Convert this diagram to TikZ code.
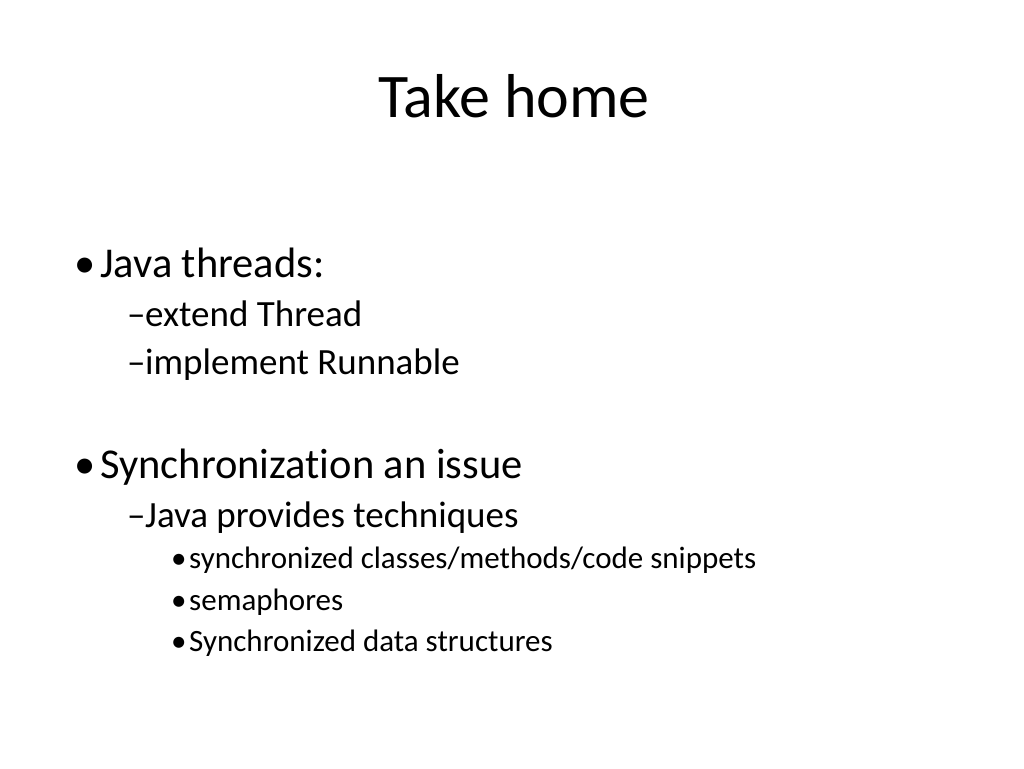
\documentclass[tikz,border=0pt]{standalone}
\usepackage{fontspec}
\setmainfont[RawFeature=-liga]{Carlito}
\usetikzlibrary{positioning}
\tikzset{
  lvlone/.style={anchor=base west,inner sep=0pt,font=\fontsize{42.5}{46}\selectfont},
  lvltwo/.style={anchor=base west,inner sep=0pt,font=\fontsize{37}{40}\selectfont},
  lvlthree/.style={anchor=base west,inner sep=0pt,font=\fontsize{31}{34}\selectfont}
}
\begin{document}
\begin{tikzpicture}[x=1pt,y=-1pt]
\useasboundingbox[fill=white] (0,0) rectangle (1024,768);
\node[anchor=base,inner sep=0pt,font=\fontsize{62}{68}\selectfont] (title) at (514,117) {Take home};
% first point
\node[lvlone] (b1) at (74,277) {\textbullet};
\node[lvlone] (java) at (100,277) {Java threads:};
\node[lvltwo] (d1) at (127,326) {--};
\node[lvltwo] (ext) at (145,326) {extend Thread};
\node[lvltwo] (d2) at (127,374) {--};
\node[lvltwo] (impl) at (145,374) {implement Runnable};
% second point
\node[lvlone] (b2) at (74,478) {\textbullet};
\node[lvlone] (sync) at (100,478) {Synchronization an issue};
\node[lvltwo] (d3) at (127,527) {--};
\node[lvltwo] (tech) at (145,527) {Java provides techniques};
\node[lvlthree] (b3) at (171,568) {\textbullet};
\node[lvlthree] (cls) at (189,568) {synchronized classes/methods/code snippets};
\node[lvlthree] (b4) at (171,610) {\textbullet};
\node[lvlthree] (sem) at (189,610) {semaphores};
\node[lvlthree] (b5) at (171,651) {\textbullet};
\node[lvlthree] (ds) at (189,651) {Synchronized data structures};
\end{tikzpicture}
\end{document}
